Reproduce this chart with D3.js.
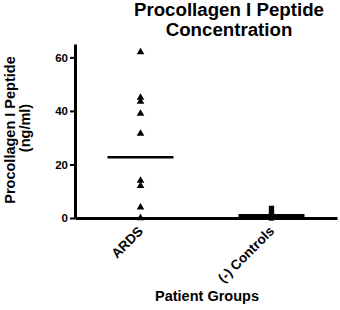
<!DOCTYPE html>
<html><head><meta charset="utf-8">
<script src="https://cdn.jsdelivr.net/npm/d3@7"></script>
<style>body{margin:0;background:#fff}text{font-family:"Liberation Sans",Arial,sans-serif;font-weight:bold;fill:#000}</style>
</head><body><svg id="c" width="340" height="310"></svg>
<script>
const categories = ["ARDS", "(-) Controls"];
const ardsValues = [62, 45, 43.5, 39, 31.5, 14, 12, 4, 0];
const controlValues = [3.6, 2, 1, 0.5, 0.3, 0];
const meanValues = [22.7, 0.8];
const yTicks = [0, 20, 40, 60];

const svg = d3.select("#c");
const x = d3.scalePoint().domain(categories).range([75, 337]).padding(0.5);
const y = d3.scaleLinear().domain([0, 65]).range([218, 44]);

// title
svg.append("text").attr("x", 229).attr("y", 16).attr("text-anchor", "middle").style("font-size", "18.7px").text("Procollagen I Peptide");
svg.append("text").attr("x", 229).attr("y", 36).attr("text-anchor", "middle").style("font-size", "18.7px").text("Concentration");

// y axis
const yAxis = svg.append("g").attr("transform", "translate(75,0)")
  .call(d3.axisLeft(y).tickValues(yTicks).tickSize(5).tickSizeOuter(0).tickPadding(2));
yAxis.select(".domain").attr("stroke", "#000").attr("stroke-width", 3);
yAxis.selectAll(".tick line").attr("stroke-width", 2);
yAxis.selectAll(".tick text").style("font-size", "11.5px").style("font-family", "Liberation Sans, Arial, sans-serif").attr("font-weight", "bold");

// x axis
const xAxis = svg.append("g").attr("transform", "translate(0,218)")
  .call(d3.axisBottom(x).tickSize(0).tickSizeOuter(0).tickPadding(0));
xAxis.select(".domain").attr("stroke", "#000").attr("stroke-width", 3);
xAxis.selectAll(".tick text")
  .style("font-size", "13.5px").style("font-family", "Liberation Sans, Arial, sans-serif").attr("font-weight", "bold")
  .attr("text-anchor", "end").attr("dy", null).attr("y", 0)
  .attr("transform", "translate(3,14) rotate(-45)");

// axis titles
svg.append("text").attr("transform", "translate(15,130) rotate(-90)").attr("text-anchor", "middle")
  .style("font-size", "14.5px").text("Procollagen  I Peptide");
svg.append("text").attr("transform", "translate(30,128) rotate(-90)").attr("text-anchor", "middle")
  .style("font-size", "14.5px").text("(ng/ml)");
svg.append("text").attr("x", 207).attr("y", 301).attr("text-anchor", "middle").style("font-size", "14.5px").text("Patient Groups");

// means
const halfW = 33;
svg.selectAll(".mean").data(meanValues).enter().append("line")
  .attr("x1", (d, i) => x(categories[i]) - halfW).attr("x2", (d, i) => x(categories[i]) + halfW)
  .attr("y1", d => y(d)).attr("y2", d => y(d))
  .attr("stroke", "#000").attr("stroke-width", (d, i) => i === 0 ? 2.5 : 3.5);

// points
const tri = d3.symbol().type(d3.symbolTriangle).size(25);
svg.selectAll(".ards").data(ardsValues).enter().append("path")
  .attr("d", tri).attr("transform", d => `translate(${x(categories[0])},${y(d)})`).attr("fill", "#000");
const sq = d3.symbol().type(d3.symbolSquare).size(28);
svg.selectAll(".ctrl").data(controlValues).enter().append("path")
  .attr("d", sq).attr("transform", d => `translate(${x(categories[1])},${y(d)})`).attr("fill", "#000");
</script></body></html>
